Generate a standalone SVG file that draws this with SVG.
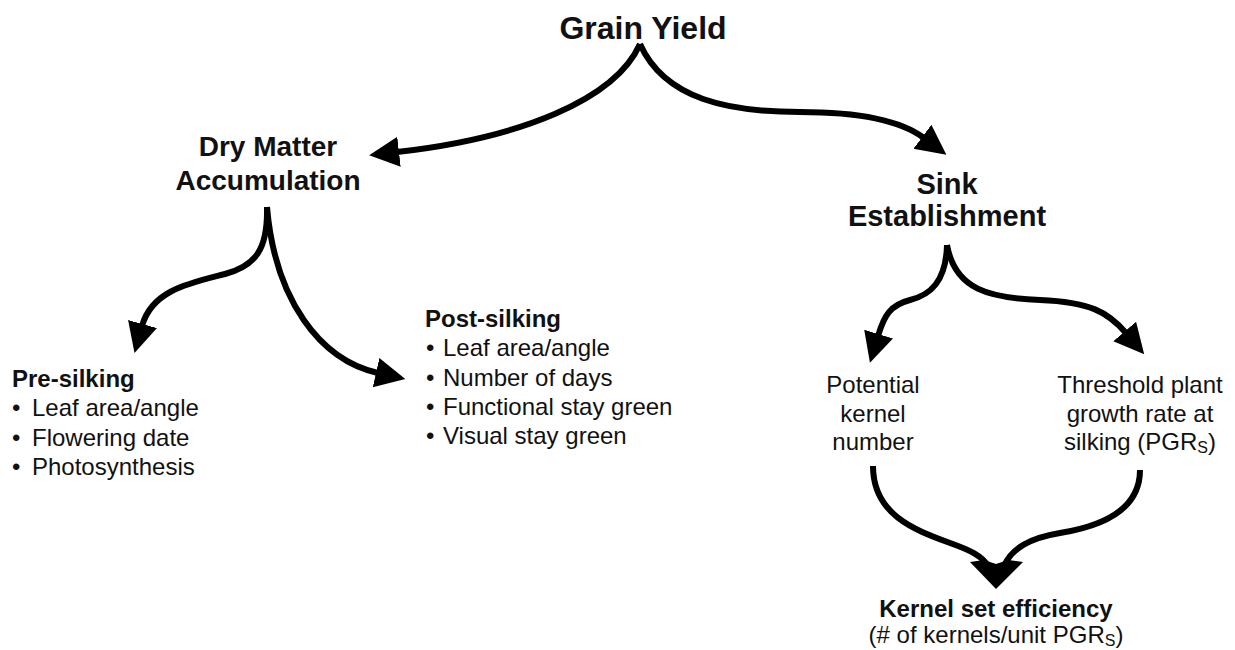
<svg xmlns="http://www.w3.org/2000/svg" width="1235" height="650" viewBox="0 0 1235 650">
  <style>
    .bg { fill: #ffffff; }
    .title { font-family: "Liberation Sans", Arial, sans-serif; font-weight: bold; fill: #111; }
    .head { font-family: "Liberation Sans", Arial, sans-serif; font-weight: bold; font-size: 24px; fill: #111; }
    .body { font-family: "Liberation Sans", Arial, sans-serif; font-size: 24px; fill: #111; }
    .link { fill: none; stroke: #000; stroke-width: 6; stroke-linecap: butt; }
    .tip { fill: #000; }
  </style>
  <defs>
    <marker id="arrow" markerUnits="userSpaceOnUse" orient="auto" markerWidth="32" markerHeight="34" viewBox="0 -17 32 34" refX="2" refY="0">
      <path d="M0,-15 L30,0 L0,15 z" fill="#000"/>
    </marker>
  </defs>
  <rect class="bg" x="0" y="0" width="1235" height="650"/>

  <g id="connectors">
    <!-- Grain Yield to its two components -->
    <path class="link" d="M640,44 C615,100 520,138 397,152" marker-end="url(#arrow)"/>
    <path class="link" d="M640,44 C665,100 730,112 800,112 C860,112 900,120 924,138" marker-end="url(#arrow)"/>
    <!-- Dry matter accumulation split -->
    <path class="link" d="M267,207 C268,250 255,266 225,274 C190,283 152,290 142,326" marker-end="url(#arrow)"/>
    <path class="link" d="M267,207 C275,300 320,360 378,373" marker-end="url(#arrow)"/>
    <!-- Sink establishment split -->
    <path class="link" d="M947,245 C946,282 930,295 910,300 C890,305 884,316 878,336" marker-end="url(#arrow)"/>
    <path class="link" d="M947,245 C955,290 990,298 1040,300 C1090,302 1108,312 1126,333" marker-end="url(#arrow)"/>
    <!-- Both sink factors converge on kernel set efficiency -->
    <path class="link" d="M873,466 C873,515 915,530 950,543 C970,550 982,556 988,566"/>
    <path class="link" d="M1140,470 C1140,505 1110,525 1060,533 C1030,538 1012,548 1004,566"/>
    <path class="tip" d="M970,562 L984,560 L996,564 L1008,560 L1023,562 L996,589 z"/>
  </g>

  <g id="grain-yield">
    <text class="title" x="643" y="39" font-size="32" text-anchor="middle">Grain Yield</text>
  </g>

  <g id="dry-matter">
    <text class="title" x="268" y="156" font-size="28" text-anchor="middle">Dry Matter</text>
    <text class="title" x="268" y="190" font-size="28" text-anchor="middle">Accumulation</text>
  </g>

  <g id="sink">
    <text class="title" x="947" y="194" font-size="29" text-anchor="middle">Sink</text>
    <text class="title" x="947" y="226" font-size="29" text-anchor="middle">Establishment</text>
  </g>

  <g id="pre-silking">
    <text class="head" x="12" y="387">Pre-silking</text>
    <text class="body" x="12" y="416">•<tspan x="32">Leaf area/angle</tspan></text>
    <text class="body" x="12" y="446">•<tspan x="32">Flowering date</tspan></text>
    <text class="body" x="12" y="475">•<tspan x="32">Photosynthesis</tspan></text>
  </g>

  <g id="post-silking">
    <text class="head" x="425" y="327">Post-silking</text>
    <text class="body" x="426" y="356">•<tspan x="443">Leaf area/angle</tspan></text>
    <text class="body" x="426" y="386">•<tspan x="443">Number of days</tspan></text>
    <text class="body" x="426" y="415">•<tspan x="443">Functional stay green</tspan></text>
    <text class="body" x="426" y="444">•<tspan x="443">Visual stay green</tspan></text>
  </g>

  <g id="potential-kernel">
    <text class="body" x="873" y="393" text-anchor="middle">Potential</text>
    <text class="body" x="873" y="422" text-anchor="middle">kernel</text>
    <text class="body" x="873" y="450" text-anchor="middle">number</text>
  </g>

  <g id="threshold-pgr">
    <text class="body" x="1140" y="393" text-anchor="middle">Threshold plant</text>
    <text class="body" x="1140" y="422" text-anchor="middle">growth rate at</text>
    <text class="body" x="1140" y="450" text-anchor="middle">silking (PGR<tspan font-size="16" dy="3">S</tspan><tspan dy="-3">)</tspan></text>
  </g>

  <g id="kernel-set">
    <text class="head" x="996" y="617" text-anchor="middle">Kernel set efficiency</text>
    <text class="body" x="996" y="643" font-size="23" text-anchor="middle">(# of kernels/unit PGR<tspan font-size="16" dy="3">S</tspan><tspan dy="-3">)</tspan></text>
  </g>
</svg>
